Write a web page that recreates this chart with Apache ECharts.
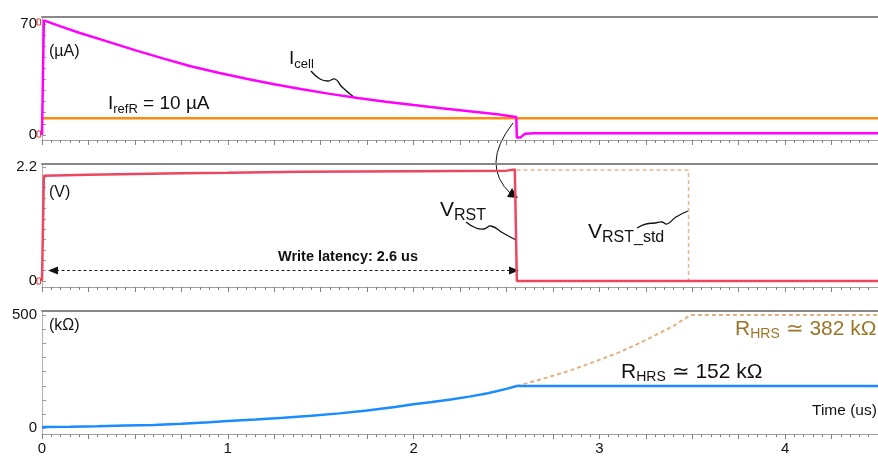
<!DOCTYPE html>
<html>
<head>
<meta charset="utf-8">
<script src="https://cdn.jsdelivr.net/npm/echarts@6.0.0/dist/echarts.min.js"></script>
<style>
html,body{margin:0;padding:0;background:#fff;}
#c{width:878px;height:457px;}
</style>
</head>
<body>
<div id="c"></div>
<script>
// ---------- data ----------
// Top panel: currents (µA)
var icellT   = [0, 0.01, 0.01, 0.1, 0.2, 0.35, 0.5, 0.65, 0.8, 0.95, 1.1, 1.25, 1.4, 1.55, 1.7, 1.85, 2.0, 2.15, 2.3, 2.45, 2.553, 2.556, 2.575, 2.6, 2.65, 4.5];
var icellV   = [0, 0, 72.3, 68.5, 64.5, 59, 53.5, 48.3, 43.3, 39.2, 35.5, 32, 28.8, 25.9, 23.3, 21, 18.9, 16.9, 15, 13.1, 11.3, -1.7, -1.7, 0.8, 1.05, 1.05];
var irefT    = [0, 4.5];
var irefV    = [10.6, 10.6];
// Middle panel: voltages (V)
var vrstT    = [0, 0.01, 0.01, 0.25, 0.5, 0.75, 1.0, 1.4, 2.0, 2.5, 2.545, 2.554, 2.556, 4.5];
var vrstV    = [0, 0, 2.03, 2.05, 2.065, 2.08, 2.09, 2.11, 2.12, 2.13, 2.15, 2.16, 0, 0];
var vstdT    = [2.554, 3.48, 3.48];
var vstdV    = [2.14, 2.14, 0];
// Bottom panel: resistance (kΩ)
var rhrsT    = [0, 0.15, 0.3, 0.45, 0.6, 0.75, 0.9, 1.0, 1.15, 1.3, 1.45, 1.6, 1.75, 1.9, 2.0, 2.1, 2.2, 2.3, 2.4, 2.5, 2.555, 4.5];
var rhrsV    = [6, 7, 9, 12, 15, 20, 27, 32, 39, 47, 56, 66, 79, 94, 106, 116, 127, 140, 155, 174, 187, 187];
var rstdT    = [2.555, 2.65, 2.75, 2.85, 3.0, 3.1, 3.2, 3.3, 3.4, 3.49, 4.5];
var rstdV    = [187, 208, 232, 257, 302, 333, 370, 410, 452, 500, 500];
// Axis tick labels / ticks
var xLabels  = [0, 1, 2, 3, 4];
var y1Labels = [0, 70];
var y1Ticks  = [0, 7, 14, 21, 28, 35, 42, 49, 56, 63, 70];
var y2Labels = [0, 2.2];
var y2Ticks  = [0, 0.2, 0.4, 0.6, 0.8, 1.0, 1.2, 1.4, 1.6, 1.8, 2.0, 2.2];
var y3Labels = [0, 500];
var y3Ticks  = [0, 62.5, 125, 187.5, 250, 312.5, 375, 437.5, 500];

function pairs(t, v){ return t.map(function(x,i){ return [x, v[i]]; }); }

var FONT = '"Liberation Sans", Arial, sans-serif';

var grids = [
  {left:42, right:0, top:17,    height:123},
  {left:42, right:0, top:164,   height:123},
  {left:42, right:0, top:310.5, height:123.5}
];

function xBottom(gi, showLabels){
  return {
    type:'value', gridIndex:gi, min:0, max:4.5, interval:0.25, position:'bottom',
    axisLine:{show:true, onZero:false, lineStyle:{color:'#a0a0a0', width:1}},
    axisTick:{show:true, length:5, lineStyle:{color:'#808080'}},
    minorTick:{show:true, splitNumber:5, length:3, lineStyle:{color:'#808080'}},
    splitLine:{show:false},
    axisLabel:{show:showLabels, customValues:xLabels, color:'#111', fontSize:15, fontFamily:FONT, margin:7}
  };
}
function xTop(gi){
  return {
    type:'value', gridIndex:gi, min:0, max:4.5, position:'top',
    axisLine:{show:true, onZero:false, lineStyle:{color:'#888', width:2}},
    axisTick:{show:false}, axisLabel:{show:false}, splitLine:{show:false}
  };
}
function yAx(gi, mn, mx, labels, ticks){
  return {
    type:'value', gridIndex:gi, min:mn, max:mx,
    axisLine:{show:true, onZero:false, lineStyle:{color:'#b0b0b0', width:1}},
    axisTick:{show:true, inside:true, length:4, customValues:ticks, lineStyle:{color:'#999'}},
    axisLabel:{customValues:labels, color:'#111', fontSize:15, fontFamily:FONT, margin:5},
    splitLine:{show:false}
  };
}

function lineSeries(name, xi, yi, data, color, width, dashed, z){
  return {
    name:name, type:'line', xAxisIndex:xi, yAxisIndex:yi, data:data,
    showSymbol:false, symbol:'none', smooth:false, animation:false, z:z||2,
    lineStyle:{color:color, width:width, type: dashed ? [4,3] : 'solid'}
  };
}

// subscript text helper
function subText(x, y, main, sub, rest, size, subSize, color, subPad){
  return {
    type:'text', x:x, y:y, silent:true,
    style:{
      text:'{m|' + main + '}{s|' + sub + '}' + (rest ? '{m|' + rest + '}' : ''),
      verticalAlign:'middle', align:'left',
      rich:{
        m:{fontSize:size, fontFamily:FONT, fill:color},
        s:{fontSize:subSize, fontFamily:FONT, fill:color, padding:[subPad,0,0,0]}
      }
    }
  };
}
function plain(x, y, txt, size, color, weight){
  return {type:'text', x:x, y:y, silent:true,
    style:{text:txt, fontSize:size, fontFamily:FONT, fill:color, fontWeight:weight||'normal', verticalAlign:'middle', align:'left'}};
}
function squiggle(pts){
  return {type:'polyline', silent:true, shape:{points:pts, smooth:0.5},
    style:{stroke:'#111', lineWidth:1.3, fill:null}};
}
function tri(p1, p2, p3){
  return {type:'polygon', silent:true, shape:{points:[p1,p2,p3]}, style:{fill:'#111'}};
}
function redMark(x, y){
  return {type:'rect', silent:true, shape:{x:x, y:y, width:3.5, height:6}, style:{stroke:'#f04040', lineWidth:1, fill:null}};
}

var option = {
  backgroundColor:'#fff',
  animation:false,
  grid:grids,
  xAxis:[xBottom(0,false), xBottom(1,false), xBottom(2,true), xTop(0), xTop(1), xTop(2)],
  yAxis:[
    yAx(0, -3.2, 74.4, y1Labels, y1Ticks),
    yAx(1, -0.116, 2.258, y2Labels, y2Ticks),
    yAx(2, -25, 520, y3Labels, y3Ticks)
  ],
  series:[
    lineSeries('Icell', 0, 0, pairs(icellT, icellV), '#ff00ff', 2.5, false, 3),
    lineSeries('IrefR', 0, 0, pairs(irefT, irefV), '#ff8a10', 2.5, false, 2),
    lineSeries('VRST_std', 1, 1, pairs(vstdT, vstdV), '#e3b78d', 1.5, true, 2),
    lineSeries('VRST', 1, 1, pairs(vrstT, vrstV), '#ec4660', 2.5, false, 3),
    lineSeries('RHRS_std', 2, 2, pairs(rstdT, rstdV), '#e2b181', 2, true, 2),
    lineSeries('RHRS', 2, 2, pairs(rhrsT, rhrsV), '#1a8cff', 2.5, false, 3)
  ],
  graphic:[
    plain(49, 52, '(µA)', 16, '#111'),
    subText(108, 103.5, 'I', 'refR', ' = 10 µA', 19, 13, '#111', 12),
    subText(289, 58.5, 'I', 'cell', '', 19, 13, '#111', 12),
    squiggle([[311,71],[320,79],[328,81],[335,79],[342,87],[355,98]]),
    plain(49, 193, '(V)', 16, '#111'),
    subText(440, 210.5, 'V', 'RST', '', 21, 16, '#111', 10),
    squiggle([[466,222],[476,228],[484,229],[491,226],[503,233],[516,240]]),
    subText(588, 232.5, 'V', 'RST_std', '', 21, 16, '#111', 10),
    squiggle([[637,228],[646,224],[655,223],[662,222],[667,224],[676,217],[688,211]]),
    plain(278, 257, 'Write latency: 2.6 us', 14.5, '#111', 'bold'),
    {type:'line', silent:true, shape:{x1:56, y1:270.5, x2:511, y2:270.5}, style:{stroke:'#222', lineWidth:1, lineDash:[3,2.5]}},
    tri([48,270.5],[58,266.5],[58,274.5]),
    tri([519,270.5],[509,266.5],[509,274.5]),
    {type:'bezierCurve', silent:true, shape:{x1:513, y1:123, cpx1:480, cpy1:165, x2:511, y2:194}, style:{stroke:'#111', lineWidth:1, fill:null}},
    tri([518,198],[507,197],[512,188]),
    plain(49, 325.5, '(kΩ)', 16, '#111'),
    subText(735, 329, 'R', 'HRS', ' ≃ 382 kΩ', 21, 14, '#9b7528', 11),
    subText(621, 372, 'R', 'HRS', ' ≃ 152 kΩ', 21, 14, '#111', 11),
    plain(812, 411, 'Time (us)', 15.5, '#111'),
    redMark(37, 19),
    redMark(37, 131),
    redMark(37, 278)
  ]
};

var chart = echarts.init(document.getElementById('c'), null, {renderer:'canvas'});
chart.setOption(option);
</script>
</body>
</html>
